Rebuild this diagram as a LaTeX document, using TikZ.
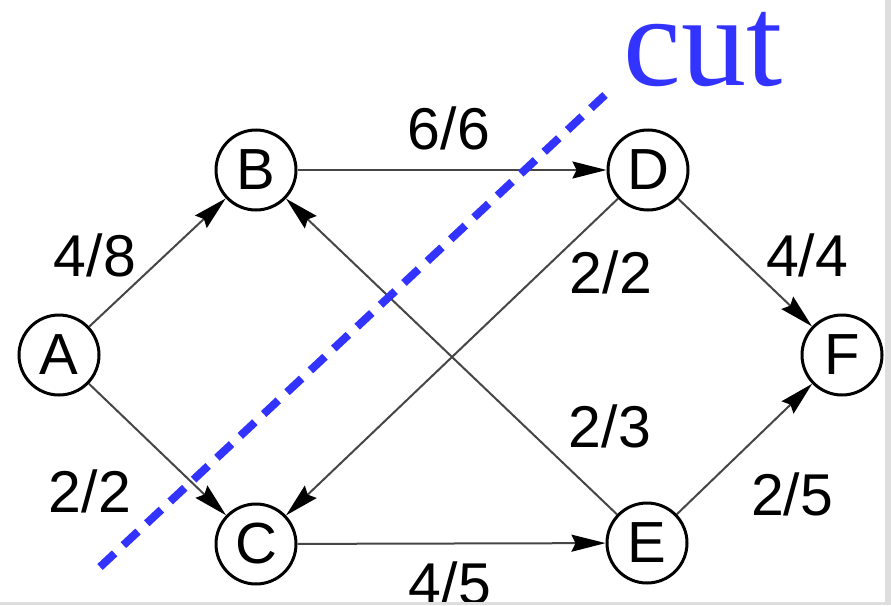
\documentclass[tikz,border=0pt]{standalone}
\usepackage{fontspec}
\setmainfont{Liberation Sans}
\newfontfamily\cutfont{Liberation Serif}
\usetikzlibrary{arrows.meta}
\definecolor{cutblue}{RGB}{51,51,255}
\definecolor{edgegray}{RGB}{70,70,70}
\begin{document}
\begin{tikzpicture}[x=1pt,y=-1pt,
  vertex/.style={circle,draw=black,line width=3pt,minimum size=80pt,inner sep=0pt,font=\fontsize{58}{60}\selectfont},
  flow/.style={draw=edgegray,line width=2pt,-{Stealth[length=34pt,width=17pt,inset=4pt,black]}},
  lbl/.style={font=\fontsize{59}{60}\selectfont,inner sep=0pt}]
\fill[white] (0,0) rectangle (891,605);
\useasboundingbox (0,0) rectangle (891,605);
\node[vertex] (A) at (59,355) {A};
\node[vertex] (B) at (256,170) {B};
\node[vertex] (C) at (256,544) {C};
\node[vertex] (D) at (648,170) {D};
\node[vertex] (E) at (647,543) {E};
\node[vertex] (F) at (842,355) {F};
\draw[flow] (A) -- (B);
\draw[flow] (A) -- (C);
\draw[flow] (B) -- (D);
\draw[flow] (D) -- (F);
\draw[flow] (E) -- (F);
\draw[flow] (C) -- (E);
\draw[flow] (D) -- (C);
\draw[flow] (E) -- (B);
\node[lbl] (l66) at (449,128) {6/6};
\node[lbl] (l48) at (95,255) {4/8};
\node[lbl] (l22a) at (90,491) {2/2};
\node[lbl] (l22b) at (611,272) {2/2};
\node[lbl] (l44) at (807,255) {4/4};
\node[lbl] (l23) at (610,426) {2/3};
\node[lbl] (l25) at (792,494) {2/5};
\node[lbl] (l45) at (450,583) {4/5};
\fill[black!13] (885,0) rectangle (891,605);
\fill[black!13] (0,602) rectangle (885,605);
\coordinate (c1) at (100,567);
\coordinate (c2) at (605,95);
\draw[cutblue,line width=8pt,dash pattern=on 20pt off 12pt] (c1) -- (c2);
\node[cutblue,font=\cutfont\fontsize{130}{130}\selectfont,anchor=base,inner sep=0pt] (cut) at (703,85) {cut};
\end{tikzpicture}
\end{document}
